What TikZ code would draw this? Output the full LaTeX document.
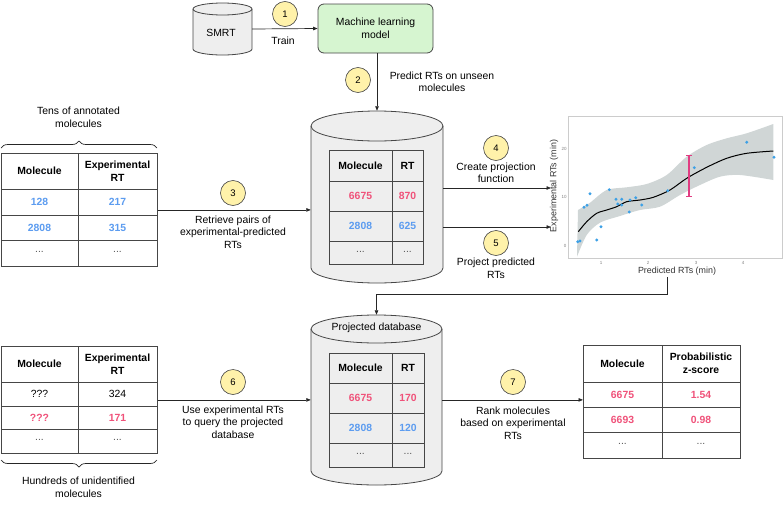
\documentclass[tikz,border=0pt]{standalone}
\usepackage{fontspec}
\setmainfont{Liberation Sans}
\usetikzlibrary{arrows.meta,decorations.pathreplacing}
\definecolor{pinkt}{RGB}{240,82,122}
\definecolor{bluet}{RGB}{92,156,240}
\definecolor{circfill}{RGB}{255,242,170}
\definecolor{mlgreen}{RGB}{214,245,208}
\definecolor{cylfill}{RGB}{238,238,238}
\definecolor{edge}{RGB}{70,70,70}
\definecolor{bandgray}{RGB}{208,214,214}
\definecolor{ptblue}{RGB}{60,160,230}
\definecolor{errpink}{RGB}{225,60,130}
\begin{document}
\begin{tikzpicture}[x=1pt,y=-1pt,
  every node/.style={font=\fontsize{10.4}{12.5}\selectfont, inner sep=0pt},
  lbl/.style={align=center},
  num/.style={circle, draw=edge, fill=circfill, line width=0.6pt, minimum size=25pt, font=\fontsize{9.5}{11}\selectfont},
  hd/.style={align=center, font=\fontsize{10.4}{12.5}\selectfont\bfseries},
  cb/.style={font=\fontsize{10.4}{12.5}\selectfont\bfseries, text=bluet},
  cp/.style={font=\fontsize{10.4}{12.5}\selectfont\bfseries, text=pinkt},
  cn/.style={font=\fontsize{10.4}{12.5}\selectfont},
  dd/.style={font=\fontsize{10.4}{12.5}\selectfont, text=black!65},
  tline/.style={draw=edge, line width=0.8pt},
  tbl/.style={draw=edge, line width=0.8pt, fill=white, anchor=north west},
  cyl/.style={draw=edge, line width=0.8pt, fill=cylfill},
  conn/.style={draw=black!85, line width=0.7pt},
  arr/.style={conn, -{Triangle[length=4.5pt,width=3.5pt]}},
  tick/.style={font=\fontsize{4.5}{5}\selectfont, text=black!50},
  axt/.style={font=\fontsize{8.9}{10}\selectfont, text=black!80},
]
\useasboundingbox (0,0) rectangle (784,506);

% ---------- SMRT cylinder ----------
\draw[cyl] (193,9) -- (193,49) arc[start angle=180,end angle=360,x radius=29.5pt,y radius=6pt] -- (252,9) arc[start angle=0,end angle=180,x radius=29.5pt,y radius=6pt] -- cycle;
\draw[tline] (193,9) arc[start angle=180,end angle=360,x radius=29.5pt,y radius=6pt];
\node[minimum width=59pt, minimum height=52pt] (smrt) at (222.5,29) {};
\node (smrtt) at (221,33) {SMRT};

% ---------- ML model ----------
\node[draw=edge, line width=0.8pt, fill=mlgreen, rounded corners=6pt, minimum width=115pt, minimum height=49pt, align=center] (ml) at (375.5,28.5) {Machine learning\\model};

% ---------- cylinder 1 ----------
\draw[cyl] (311,126) -- (311,268) arc[start angle=180,end angle=360,x radius=66pt,y radius=15pt] -- (443,126) arc[start angle=0,end angle=180,x radius=66pt,y radius=15pt] -- cycle;
\draw[tline] (311,126) arc[start angle=180,end angle=360,x radius=66pt,y radius=15pt];
\node[minimum width=132pt, minimum height=172pt] (cyl1) at (377,197) {};

\node[tbl, fill=cylfill, minimum width=94pt, minimum height=114pt] (t1) at (329,150) {};
\draw[tline] (392,150) -- (392,264) (329,181) -- (423,181) (329,211) -- (423,211) (329,241) -- (423,241);
\node[hd] (t1h1) at (360.5,165.5) {Molecule};
\node[hd] (t1h2) at (407.5,165.5) {RT};
\node[cp] (t1a1) at (360.5,196) {6675};
\node[cp] (t1a2) at (407.5,196) {870};
\node[cb] (t1b1) at (360.5,226) {2808};
\node[cb] (t1b2) at (407.5,226) {625};
\node[dd] (t1c1) at (360.5,252) {...};
\node[dd] (t1c2) at (407.5,252) {...};

% ---------- cylinder 2 ----------
\draw[cyl] (311,329) -- (311,471) arc[start angle=180,end angle=360,x radius=65.5pt,y radius=14pt] -- (442,329) arc[start angle=0,end angle=180,x radius=65.5pt,y radius=14pt] -- cycle;
\draw[tline] (311,329) arc[start angle=180,end angle=360,x radius=65.5pt,y radius=14pt];
\node[minimum width=131pt, minimum height=170pt] (cyl2) at (376.5,400) {};
\node (pdb) at (376.5,328) {Projected database};

\node[tbl, fill=cylfill, minimum width=95pt, minimum height=114pt] (t2) at (329,353) {};
\draw[tline] (392,353) -- (392,467) (329,383) -- (424,383) (329,413) -- (424,413) (329,443) -- (424,443);
\node[hd] (t2h1) at (360.5,368) {Molecule};
\node[hd] (t2h2) at (408,368) {RT};
\node[cp] (t2a1) at (360.5,398) {6675};
\node[cp] (t2a2) at (408,398) {170};
\node[cb] (t2b1) at (360.5,428) {2808};
\node[cb] (t2b2) at (408,428) {120};
\node[dd] (t2c1) at (360.5,454) {...};
\node[dd] (t2c2) at (408,454) {...};

% ---------- table A ----------
\node[tbl, minimum width=156pt, minimum height=113pt] (tA) at (1,153) {};
\draw[tline] (78,153) -- (78,266) (1,189) -- (157,189) (1,215) -- (157,215) (1,240) -- (157,240);
\node[hd] (tAh1) at (39.5,171) {Molecule};
\node[hd] (tAh2) at (117.5,171) {Experimental\\RT};
\node[cb] (tAa1) at (39.5,202) {128};
\node[cb] (tAa2) at (117.5,202) {217};
\node[cb] (tAb1) at (39.5,227.5) {2808};
\node[cb] (tAb2) at (117.5,227.5) {315};
\node[dd] (tAc1) at (39.5,252) {...};
\node[dd] (tAc2) at (117.5,252) {...};
\draw[conn, decorate, decoration={brace, amplitude=7pt}] (1,148) -- (157,148);
\node[lbl] (tens) at (78.5,117.5) {Tens of annotated\\molecules};

% ---------- table B ----------
\node[tbl, minimum width=156pt, minimum height=107pt] (tB) at (1,346) {};
\draw[tline] (78,346) -- (78,453) (1,382) -- (157,382) (1,406) -- (157,406) (1,429) -- (157,429);
\node[hd] (tBh1) at (39.5,364) {Molecule};
\node[hd] (tBh2) at (117.5,364) {Experimental\\RT};
\node[cn] (tBa1) at (39.5,394) {???};
\node[cn] (tBa2) at (117.5,394) {324};
\node[cp] (tBb1) at (39.5,417.5) {???};
\node[cp] (tBb2) at (117.5,417.5) {171};
\node[dd] (tBc1) at (39.5,440) {...};
\node[dd] (tBc2) at (117.5,440) {...};
\draw[conn, decorate, decoration={brace, amplitude=7pt}] (157,460) -- (1,460);
\node[lbl] (hund) at (78.5,487.5) {Hundreds of unidentified\\molecules};

% ---------- table C ----------
\node[tbl, minimum width=157pt, minimum height=113pt] (tC) at (583,345) {};
\draw[tline] (662,345) -- (662,458) (583,382) -- (740,382) (583,407) -- (740,407) (583,432) -- (740,432);
\node[hd] (tCh1) at (622.5,363.5) {Molecule};
\node[hd] (tCh2) at (701,363.5) {Probabilistic\\z-score};
\node[cp] (tCa1) at (622.5,394.5) {6675};
\node[cp] (tCa2) at (701,394.5) {1.54};
\node[cp] (tCb1) at (622.5,419.5) {6693};
\node[cp] (tCb2) at (701,419.5) {0.98};
\node[dd] (tCc1) at (622.5,444) {...};
\node[dd] (tCc2) at (701,444) {...};

% ---------- plot ----------
\draw[black!20, line width=0.6pt] (568,116) rectangle (782,258);
\fill[bandgray] plot[smooth] coordinates {(578,210) (590,202.7) (606.7,190) (626.7,187.3) (646.7,184) (666.7,175) (686.7,156.7) (706.7,145) (726.7,138.3) (746.7,133.3) (773.3,124)}
  -- plot[smooth] coordinates {(773.3,180) (740,175) (720,176.7) (700,185) (680,195) (660,206.7) (640,210) (620,216) (600,222.7) (586.7,235) (577,256.7)} -- cycle;
\draw[black, line width=1pt] plot[smooth] coordinates {(578.3,231.7) (586.7,221.7) (596.7,213.3) (606.7,210) (616.7,206.7) (626.7,201.7) (640,200) (653.3,197.3) (670,190) (686.7,178.3) (706.7,167.3) (726.7,158.3) (746.7,153.3) (773.3,151)};
\foreach \px/\py in {577.7/241.7, 580/241, 584/207.3, 587/205.3, 590/193.7, 596.7/240, 601/226.7, 609.3/189.7, 616/199.3, 617.7/204, 621.7/199.3, 621.7/205, 629.3/212, 630/200, 635.7/197.7, 641.7/205, 667.7/190.7, 694.3/167.7, 746.7/142.3, 774/157.3}
  \fill[ptblue] (\px,\py) circle[radius=1.6pt];
\draw[errpink, line width=1.2pt] (689,155.7) -- (689,196.7) (686,155.7) -- (692,155.7) (686,196.7) -- (692,196.7);
\node[tick] (ty20) at (564,149) {20};
\node[tick] (ty10) at (564,197) {10};
\node[tick] (ty0) at (565,246) {0};
\node[tick] (tx1) at (601,263) {1};
\node[tick] (tx2) at (648,263) {2};
\node[tick] (tx3) at (696,263) {3};
\node[tick] (tx4) at (743,263) {4};
\node[axt, rotate=90] (ytl) at (554,186) {Experimental RTs (min)};
\node[axt] (xtl) at (677,271) {Predicted RTs (min)};
\coordinate (p4) at (551,188);
\coordinate (p5) at (551,227);
\coordinate (pb) at (667,277);

% ---------- connectors ----------
\draw[arr] (smrt.east) -- (ml.west);
\node[num] (n1) at (285,14) {1};
\node (train) at (283,41) {Train};

\draw[arr] (ml.south -| cyl1.north) -- (cyl1.north);
\node[num] (n2) at (358,80) {2};
\node[lbl] (lb2) at (442,82) {Predict RTs on unseen\\molecules};

\draw[arr] (tA.east) -- (tA.east -| cyl1.west);
\node[num] (n3) at (233,193) {3};
\node[lbl] (lb3) at (233,232) {Retrieve pairs of\\experimental-predicted\\RTs};

\draw[arr] (p4 -| cyl1.east) -- (p4);
\node[num] (n4) at (496,148) {4};
\node[lbl] (lb4) at (496,173) {Create projection\\function};

\draw[arr] (p5 -| cyl1.east) -- (p5);
\node[num] (n5) at (496,243) {5};
\node[lbl] (lb5) at (496,268.5) {Project predicted\\RTs};

\draw[arr] (pb) -- ++(0,17) -| (cyl2.north);

\draw[arr] (tB.east) -- (tB.east -| cyl2.west);
\node[num] (n6) at (233,382) {6};
\node[lbl] (lb6) at (233,422) {Use experimental RTs\\to query the projected\\database};

\draw[arr] (tB.east -| cyl2.east) -- (tB.east -| tC.west);
\node[num] (n7) at (513,382) {7};
\node[lbl] (lb7) at (513,423) {Rank molecules\\based on experimental\\RTs};
\end{tikzpicture}
\end{document}
